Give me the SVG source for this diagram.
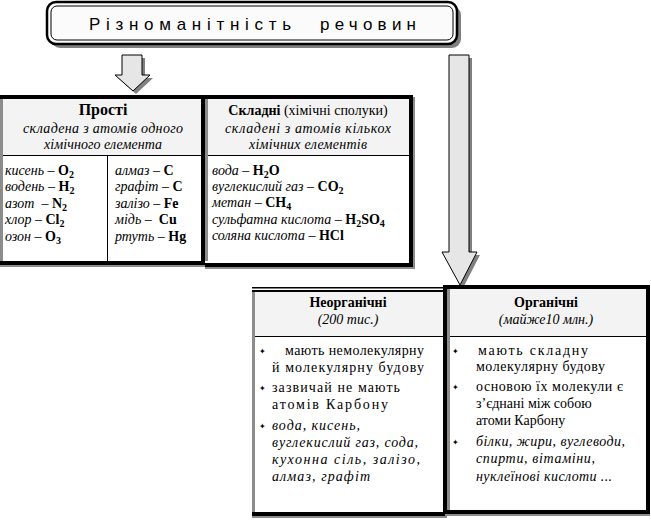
<svg xmlns="http://www.w3.org/2000/svg" width="651" height="521" viewBox="0 0 651 521">
<style>
.t{font-family:"Liberation Serif","Times New Roman",serif;font-size:14px;fill:#000}
.i{font-style:italic}
.b{font-weight:bold}
.c{text-anchor:middle}
.s{font-size:10px}
.bl{font-family:"DejaVu Sans",sans-serif;font-size:8px}
.tt{font-family:"Liberation Sans",Arial,sans-serif;font-size:17px}
.arrow{fill:#e6e6e6;stroke:#000;stroke-width:1}
.shadow{fill:#808080}
.hdr{fill:#f3f3f3}
.blk{fill:#000}
.gry{fill:#8c8c8c}
</style>
<rect width="651" height="521" fill="#fff"/>
<g id="title">
  <rect x="51" y="6" width="410" height="42" rx="9" fill="#808080"/>
  <rect x="47" y="2" width="410" height="42" rx="9" fill="#fbfbfb" stroke="#000" stroke-width="2.5"/>
  <rect x="51" y="6" width="402" height="34" rx="6" fill="none" stroke="#000" stroke-width="1"/>
  <text class="tt" x="89" y="30" textLength="202" lengthAdjust="spacing">Різноманітність</text>
  <text class="tt" x="320" y="30" textLength="96" lengthAdjust="spacing">речовин</text>
</g>
<g id="connectors">
  <polygon class="shadow" points="125,58 145,58 145,78 153,78 136,94 118,78 125,78"/>
  <polygon class="arrow" points="122,55 142,55 142,75 150,75 133,91 115,75 122,75"/>
  <polygon class="shadow" points="452,58 472,58 472,255 480,255 463,288 445,255 452,255"/>
  <polygon class="arrow" points="449,55 469,55 469,252 477,252 460,285 442,252 449,252"/>
</g>
<g id="prosti">
  <rect x="0" y="95" width="205" height="170" fill="#fff"/>
  <rect x="3" y="99" width="198" height="56" class="hdr"/>
  <rect x="0" y="99" width="3" height="162" class="gry"/>
  <rect x="0" y="95" width="205" height="4" class="blk"/>
  <rect x="201" y="95" width="4" height="170" class="blk"/>
  <rect x="0" y="261" width="205" height="4" class="blk"/>
  <rect x="0" y="265" width="205" height="2" class="gry"/>
  <line x1="3" y1="155.5" x2="201" y2="155.5" stroke="#000"/>
  <line x1="107.5" y1="155" x2="107.5" y2="261" stroke="#000"/>
  <text class="t b c" x="103" y="115" style="font-size:16px">Прості</text>
  <text class="t i c" x="103" y="133" textLength="160" lengthAdjust="spacing">складена з атомів одного</text>
  <text class="t i c" x="103" y="149" textLength="118" lengthAdjust="spacing">хімічного елемента</text>
  <text class="t i" x="5" y="175">кисень – <tspan class="b" font-style="normal">O<tspan class="s" dy="3">2</tspan></tspan></text>
  <text class="t i" x="5" y="191">водень – <tspan class="b" font-style="normal">H<tspan class="s" dy="3">2</tspan></tspan></text>
  <text class="t i" x="5" y="208" xml:space="preserve">азот  – <tspan class="b" font-style="normal">N<tspan class="s" dy="3">2</tspan></tspan></text>
  <text class="t i" x="5" y="224">хлор – <tspan class="b" font-style="normal">Cl<tspan class="s" dy="3">2</tspan></tspan></text>
  <text class="t i" x="5" y="241">озон – <tspan class="b" font-style="normal">O<tspan class="s" dy="3">3</tspan></tspan></text>
  <text class="t i" x="115" y="175">алмаз – <tspan class="b" font-style="normal">C</tspan></text>
  <text class="t i" x="115" y="191">графіт – <tspan class="b" font-style="normal">C</tspan></text>
  <text class="t i" x="115" y="208">залізо – <tspan class="b" font-style="normal">Fe</tspan></text>
  <text class="t i" x="115" y="224" xml:space="preserve">мідь –  <tspan class="b" font-style="normal">Cu</tspan></text>
  <text class="t i" x="115" y="241">ртуть – <tspan class="b" font-style="normal">Hg</tspan></text>
</g>
<g id="skladni">
  <rect x="205" y="95" width="208" height="170" fill="#fff"/>
  <rect x="208" y="99" width="201" height="56" class="hdr"/>
  <rect x="205" y="99" width="3" height="162" class="gry"/>
  <rect x="205" y="95" width="208" height="4" class="blk"/>
  <rect x="409" y="95" width="4" height="172" class="blk"/>
  <rect x="205" y="263" width="208" height="4" class="blk"/>
  <rect x="413" y="97" width="2" height="172" class="gry"/>
  <rect x="205" y="267" width="210" height="2" class="gry"/>
  <line x1="208" y1="155.5" x2="409" y2="155.5" stroke="#000"/>
  <text class="t c" x="308" y="115"><tspan class="b">Складні</tspan> (хімічні сполуки)</text>
  <text class="t i c" x="308" y="133" textLength="166" lengthAdjust="spacing">складені з атомів кількох</text>
  <text class="t i c" x="308" y="149" textLength="118" lengthAdjust="spacing">хімічних елементів</text>
  <text class="t i" x="212" y="175">вода – <tspan class="b" font-style="normal">H<tspan class="s" dy="3">2</tspan><tspan dy="-3">O</tspan></tspan></text>
  <text class="t i" x="212" y="191">вуглекислий газ – <tspan class="b" font-style="normal">CO<tspan class="s" dy="3">2</tspan></tspan></text>
  <text class="t i" x="212" y="207">метан – <tspan class="b" font-style="normal">CH<tspan class="s" dy="3">4</tspan></tspan></text>
  <text class="t i" x="212" y="224">сульфатна кислота – <tspan class="b" font-style="normal">H<tspan class="s" dy="3">2</tspan><tspan dy="-3">SO</tspan><tspan class="s" dy="3">4</tspan></tspan></text>
  <text class="t i" x="212" y="240">соляна кислота – <tspan class="b" font-style="normal">HCl</tspan></text>
</g>
<g id="neorganichni">
  <rect x="252" y="287" width="193" height="230" fill="#fff"/>
  <rect x="255" y="292" width="188" height="44" class="hdr"/>
  <rect x="252" y="287" width="193" height="1.5" class="blk"/>
  <rect x="252" y="290" width="193" height="2" class="blk"/>
  <rect x="252" y="292" width="3" height="222" class="gry"/>
  <rect x="252" y="512" width="193" height="4" class="blk"/>
  <rect x="252" y="516" width="195" height="2" class="gry"/>
  <line x1="255" y1="336.5" x2="443" y2="336.5" stroke="#000"/>
  <text class="t b c" x="348" y="307">Неорганічні</text>
  <text class="t i c" x="348" y="324">(200 тис.)</text>
  <text class="bl" x="259" y="354">✦</text>
  <text class="t" x="285" y="355" textLength="139" lengthAdjust="spacing">мають немолекулярну</text>
  <text class="t" x="272" y="372" textLength="152" lengthAdjust="spacing">й молекулярну будову</text>
  <text class="bl" x="259" y="391">✦</text>
  <text class="t" x="272" y="392" textLength="128" lengthAdjust="spacing">зазвичай не мають</text>
  <text class="t" x="272" y="409" textLength="116" lengthAdjust="spacing">атомів Карбону</text>
  <text class="bl" x="259" y="429">✦</text>
  <text class="t i" x="272" y="430" textLength="88" lengthAdjust="spacing">вода, кисень,</text>
  <text class="t i" x="272" y="447" textLength="146" lengthAdjust="spacing">вуглекислий газ, сода,</text>
  <text class="t i" x="272" y="464" textLength="148" lengthAdjust="spacing">кухонна сіль,  залізо,</text>
  <text class="t i" x="272" y="481" textLength="98" lengthAdjust="spacing">алмаз, графіт</text>
</g>
<g id="organichni">
  <rect x="443" y="285" width="207" height="229" fill="#fff"/>
  <rect x="450" y="289" width="196" height="47" class="hdr"/>
  <rect x="447" y="289" width="3" height="221" class="gry"/>
  <rect x="443" y="285" width="207" height="4" class="blk"/>
  <rect x="443" y="285" width="4" height="229" class="blk"/>
  <rect x="646" y="285" width="4" height="229" class="blk"/>
  <rect x="443" y="510" width="207" height="4" class="blk"/>
  <rect x="445" y="514" width="205" height="2" class="gry"/>
  <line x1="450" y1="336.5" x2="646" y2="336.5" stroke="#000"/>
  <text class="t b c" x="546" y="307">Органічні</text>
  <text class="t i c" x="546" y="324">(майже10 млн.)</text>
  <text class="bl" x="452" y="354">✦</text>
  <text class="t" x="478" y="355" textLength="110" lengthAdjust="spacing">мають складну</text>
  <text class="t" x="476" y="371" textLength="129" lengthAdjust="spacing">молекулярну будову</text>
  <text class="bl" x="452" y="390">✦</text>
  <text class="t" x="476" y="391" textLength="147" lengthAdjust="spacing">основою їх молекули є</text>
  <text class="t" x="476" y="408">з’єднані між собою</text>
  <text class="t" x="476" y="425">атоми Карбону</text>
  <text class="bl" x="452" y="445">✦</text>
  <text class="t i" x="476" y="446" textLength="149" lengthAdjust="spacing">білки, жири, вуглеводи,</text>
  <text class="t i" x="476" y="463" textLength="119" lengthAdjust="spacing">спирти, вітаміни,</text>
  <text class="t i" x="476" y="481" textLength="136" lengthAdjust="spacing">нуклеїнові кислоти ...</text>
</g>
</svg>
